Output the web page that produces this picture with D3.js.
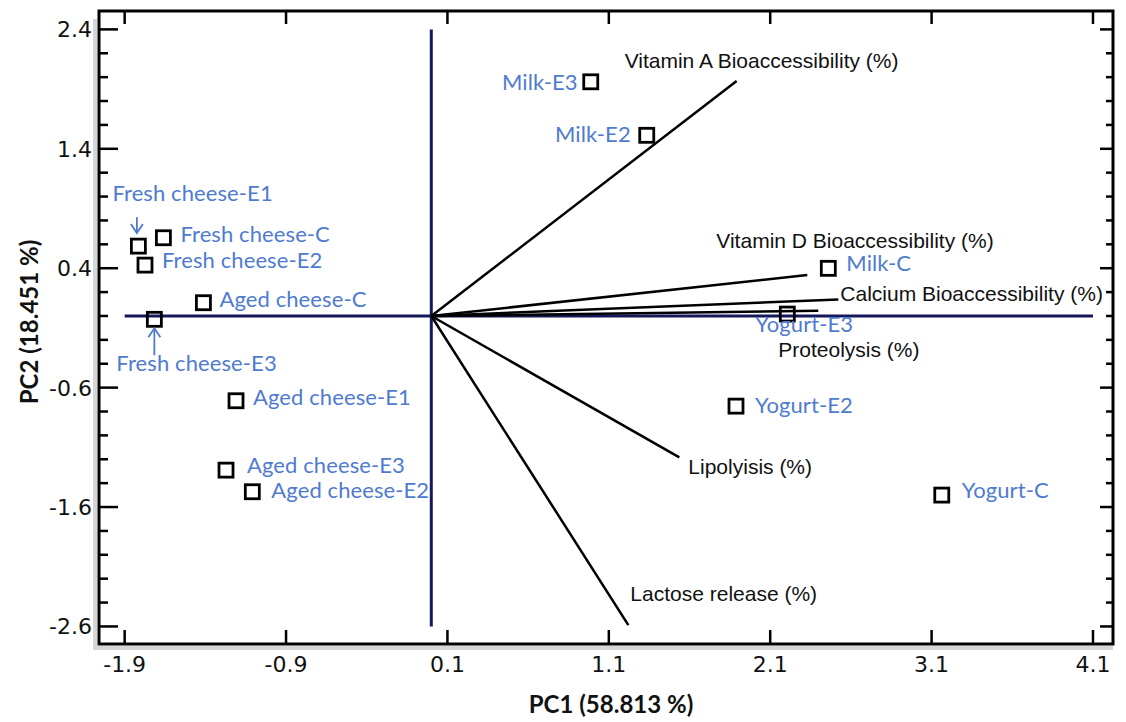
<!DOCTYPE html>
<html>
<head>
<meta charset="utf-8">
<script src="https://cdn.jsdelivr.net/npm/d3@7"></script>
<style>
  html, body { margin: 0; padding: 0; background: #fff; }
  svg { display: block; }
</style>
</head>
<body>
<svg id="chart" width="1126" height="722"></svg>
<script>
// sample scores (PC1, PC2)
const sampleNames = ["Milk-E3", "Milk-E2", "Milk-C", "Yogurt-E3", "Yogurt-E2", "Yogurt-C",
  "Fresh cheese-E1", "Fresh cheese-C", "Fresh cheese-E2", "Fresh cheese-E3",
  "Aged cheese-C", "Aged cheese-E1", "Aged cheese-E3", "Aged cheese-E2"];
const samplePC1 = [0.988, 1.335, 2.460, 2.206, 1.888, 3.163,
  -1.815, -1.660, -1.774, -1.716,
  -1.412, -1.210, -1.272, -1.109];
const samplePC2 = [1.961, 1.513, 0.399, 0.016, -0.755, -1.500,
  0.585, 0.655, 0.426, -0.028,
  0.111, -0.710, -1.291, -1.472];

// variable loadings (vector ends)
const varNames = ["Vitamin A Bioaccessibility (%)", "Vitamin D Bioaccessibility (%)",
  "Calcium Bioaccessibility (%)", "Proteolysis (%)", "Lipolyisis (%)", "Lactose release (%)"];
const varPC1 = [1.892, 2.330, 2.522, 2.398, 1.537, 1.221];
const varPC2 = [1.967, 0.343, 0.139, 0.044, -1.184, -2.589];

const xTicks = [-1.9, -0.9, 0.1, 1.1, 2.1, 3.1, 4.1];
const yTicks = [2.4, 1.4, 0.4, -0.6, -1.6, -2.6];
const xTitle = "PC1 (58.813 %)";
const yTitle = "PC2 (18.451 %)";

// label placement (pixels relative to the point)
const sampleLabelPos = {
  "Milk-E3": [-13, 8, "end"], "Milk-E2": [-16, 7, "end"], "Milk-C": [18, 3, "start"],
  "Yogurt-E3": [-32, 18, "start"], "Yogurt-E2": [19, 7, "start"], "Yogurt-C": [20, 3, "start"],
  "Fresh cheese-E1": [-26, -45, "start"], "Fresh cheese-C": [17, 4, "start"],
  "Fresh cheese-E2": [17, 3, "start"], "Fresh cheese-E3": [-38, 52, "start"],
  "Aged cheese-C": [16, 4, "start"], "Aged cheese-E1": [17, 4, "start"],
  "Aged cheese-E3": [21, 3, "start"], "Aged cheese-E2": [19, 6, "start"]
};
const varLabelPos = [[-112, -13], [-91, -27], [2, 2], [-40, 46], [9, 17], [2, -24]];

const svg = d3.select("#chart");
const frame = { left: 99, right: 1113, top: 11, bottom: 644 };

const x = d3.scaleLinear().domain([-2.059, 4.224]).range([frame.left, frame.right]);
const y = d3.scaleLinear().domain([2.554, -2.747]).range([frame.top, frame.bottom]);

const blue = "#4f7bcf";
const navy = "#15185a";
const fmt = v => v.toFixed(1);

// frame shadow + frame
svg.append("path")
  .attr("d", `M${frame.left - 4},${frame.top + 8} V${frame.bottom + 4} H${frame.right}`)
  .attr("fill", "none").attr("stroke", "#d6d6d6").attr("stroke-width", 4);
svg.append("rect")
  .attr("x", frame.left).attr("y", frame.top)
  .attr("width", frame.right - frame.left).attr("height", frame.bottom - frame.top)
  .attr("fill", "none").attr("stroke", "#000").attr("stroke-width", 3);

// x ticks (bottom and top, inward)
const gx = svg.append("g");
xTicks.forEach(t => {
  gx.append("line").attr("x1", x(t)).attr("x2", x(t))
    .attr("y1", frame.bottom).attr("y2", frame.bottom - 14)
    .attr("stroke", "#000").attr("stroke-width", 2.5);
  gx.append("line").attr("x1", x(t)).attr("x2", x(t))
    .attr("y1", frame.top).attr("y2", frame.top + 13)
    .attr("stroke", "#000").attr("stroke-width", 2.5);
  gx.append("text").attr("x", x(t)).attr("y", 672)
    .attr("text-anchor", "middle")
    .attr("font-family", "DejaVu Sans").attr("font-size", 22).attr("fill", "#111")
    .text(fmt(t));
});

// y ticks, major and minor every 0.2
const gy = svg.append("g");
const yMinor = d3.range(-2.6, 2.41, 0.2).map(v => Math.round(v * 10) / 10);
yMinor.forEach(t => {
  const major = yTicks.some(m => Math.abs(m - t) < 1e-6);
  gy.append("line").attr("x1", frame.left).attr("x2", frame.left + (major ? 19 : 9))
    .attr("y1", y(t)).attr("y2", y(t)).attr("stroke", "#000").attr("stroke-width", 2.5);
  gy.append("line").attr("x1", frame.right).attr("x2", frame.right - (major ? 13 : 7))
    .attr("y1", y(t)).attr("y2", y(t)).attr("stroke", "#000").attr("stroke-width", 2.5);
});
yTicks.forEach(t => {
  gy.append("text").attr("x", 92).attr("y", y(t) + 8)
    .attr("text-anchor", "end")
    .attr("font-family", "DejaVu Sans").attr("font-size", 22).attr("fill", "#111")
    .text(fmt(t));
});

// axis titles
svg.append("text").attr("x", 611).attr("y", 713).attr("text-anchor", "middle")
  .attr("font-family", "Lato").attr("font-weight", "bold").attr("font-size", 24)
  .attr("fill", "#111").text(xTitle);
svg.append("text").attr("transform", `translate(38,322) rotate(-90)`).attr("text-anchor", "middle")
  .attr("font-family", "Lato").attr("font-weight", "bold").attr("font-size", 24)
  .attr("fill", "#111").text(yTitle);

// origin lines
svg.append("line").attr("x1", x(0)).attr("x2", x(0)).attr("y1", y(2.4)).attr("y2", y(-2.6))
  .attr("stroke", navy).attr("stroke-width", 3);
svg.append("line").attr("x1", x(-1.9)).attr("x2", x(4.1)).attr("y1", y(0)).attr("y2", y(0))
  .attr("stroke", navy).attr("stroke-width", 3);

// loading vectors
const vars = varNames.map((n, i) => ({ name: n, pc1: varPC1[i], pc2: varPC2[i], pos: varLabelPos[i] }));
svg.append("g").selectAll("line").data(vars).join("line")
  .attr("x1", x(0)).attr("y1", y(0))
  .attr("x2", d => x(d.pc1)).attr("y2", d => y(d.pc2))
  .attr("stroke", "#000").attr("stroke-width", 2.5);
svg.append("g").selectAll("text").data(vars).join("text")
  .attr("x", d => x(d.pc1) + d.pos[0]).attr("y", d => y(d.pc2) + d.pos[1])
  .attr("font-family", "Liberation Sans, Arial").attr("font-size", 21).attr("fill", "#111")
  .text(d => d.name);

// sample points
const samples = sampleNames.map((n, i) => ({ name: n, pc1: samplePC1[i], pc2: samplePC2[i] }));
svg.append("g").selectAll("rect").data(samples).join("rect")
  .attr("x", d => x(d.pc1) - 7).attr("y", d => y(d.pc2) - 7)
  .attr("width", 14).attr("height", 14)
  .attr("fill", "none").attr("stroke", "#000").attr("stroke-width", 2.8);
svg.append("g").selectAll("text").data(samples).join("text")
  .attr("x", d => x(d.pc1) + sampleLabelPos[d.name][0])
  .attr("y", d => y(d.pc2) + sampleLabelPos[d.name][1])
  .attr("text-anchor", d => sampleLabelPos[d.name][2])
  .attr("font-family", "Lato").attr("font-size", 22).attr("letter-spacing", 0.1)
  .attr("fill", blue)
  .text(d => d.name);

// arrows pointing at the crowded fresh cheese points
function arrow(px, y1, y2) {
  const dir = y2 > y1 ? 1 : -1;
  const g = svg.append("g").attr("stroke", blue).attr("stroke-width", 1.8).attr("fill", "none");
  g.append("line").attr("x1", px).attr("x2", px).attr("y1", y1).attr("y2", y2);
  g.append("path").attr("d", `M${px - 6},${y2 - dir * 9} L${px},${y2} L${px + 6},${y2 - dir * 9}`);
}
const e1 = samples.find(d => d.name === "Fresh cheese-E1");
const e3 = samples.find(d => d.name === "Fresh cheese-E3");
arrow(x(e1.pc1) - 1.5, y(e1.pc2) - 29, y(e1.pc2) - 13);
arrow(x(e3.pc1), y(e3.pc2) + 36, y(e3.pc2) + 9);
</script>
</body>
</html>
